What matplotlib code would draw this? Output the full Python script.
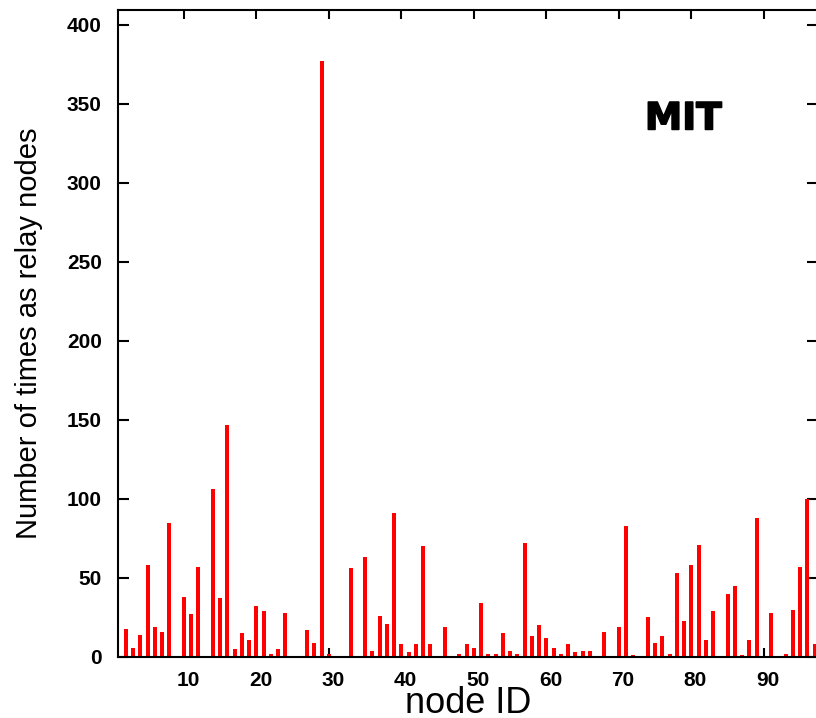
import matplotlib
matplotlib.use("Agg")
import matplotlib.pyplot as plt
import matplotlib.patheffects as pe
from matplotlib.transforms import ScaledTranslation

# Relay participation per node (MIT trace)
node_ids = list(range(1, 98))
relay_counts = [
    0, 18, 6, 14, 58, 19, 16, 85, 0, 38,
    27, 57, 0, 106, 37, 147, 5, 15, 11, 32,
    29, 2, 5, 28, 0, 0, 17, 9, 377, 2,
    0, 0, 56, 0, 63, 4, 26, 21, 91, 8,
    3, 8, 70, 8, 0, 19, 0, 2, 8, 6,
    34, 2, 2, 15, 4, 2, 72, 13, 20, 12,
    6, 2, 8, 3, 4, 4, 0, 16, 0, 19,
    83, 1, 0, 25, 9, 13, 2, 53, 23, 58,
    71, 11, 29, 0, 40, 45, 1, 11, 88, 0,
    28, 0, 2, 30, 57, 100, 8,
]
x_ticks = [10, 20, 30, 40, 50, 60, 70, 80, 90]
y_ticks = [0, 50, 100, 150, 200, 250, 300, 350, 400]

W, H = 816, 718
fig = plt.figure(figsize=(W / 100, H / 100), dpi=100)
left, right, top, bottom = 118.3, 817.5, 9.5, 657.0
ax = fig.add_axes([left / W, (H - bottom) / H, (right - left) / W, (bottom - top) / H])

ax.bar(node_ids, relay_counts, width=0.55, color="#ff0000", linewidth=0)
ax.set_axisbelow(True)

ax.set_xlim(0.94, 97.4)
ax.set_ylim(0, 409.5)
ax.set_xticks(x_ticks)
ax.set_yticks(y_ticks)

for s in ax.spines.values():
    s.set_linewidth(1.5)
    s.set_color("black")

ax.tick_params(axis="both", direction="in", top=True, right=True, width=1.5, color="black")
ax.tick_params(axis="x", length=6.5, pad=10)
ax.tick_params(axis="y", length=8, pad=12)

shift = ScaledTranslation(4 / 100, 0, fig.dpi_scale_trans)
for lab in ax.get_xticklabels():
    lab.set_transform(lab.get_transform() + shift)
for lab in ax.get_xticklabels() + ax.get_yticklabels():
    lab.set_fontfamily(["Liberation Sans", "DejaVu Sans"])
    lab.set_fontweight("bold")
    lab.set_fontsize(15)

ax.set_xlabel("node ID", family=["Liberation Sans", "DejaVu Sans"], fontsize=26, va="baseline")
ax.xaxis.set_label_coords(0.5, (bottom - 713) / (bottom - top))
ax.set_ylabel("Number of times as relay nodes",
              family=["Liberation Sans", "DejaVu Sans"], fontsize=21, labelpad=17)

ax.text(78.9, 340, "MIT", ha="center", va="center", fontsize=27, fontweight="bold",
        family=["DejaVu Sans"], color="black",
        path_effects=[pe.withStroke(linewidth=1.2, foreground="black", capstyle="round",
                                    joinstyle="round")])

fig.savefig("out.png", dpi=100)
